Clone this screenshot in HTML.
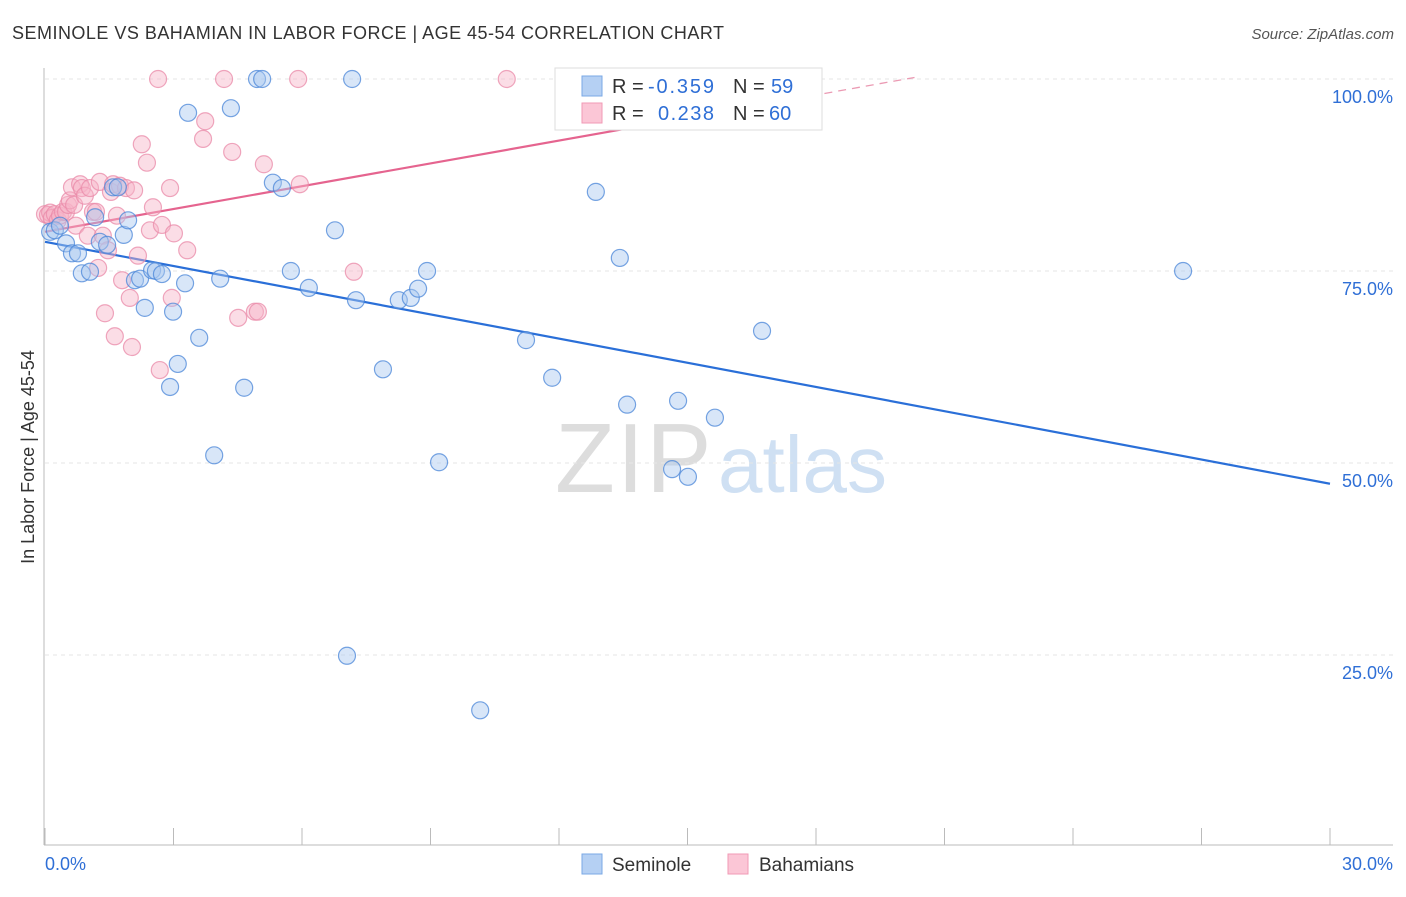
<!DOCTYPE html>
<html><head><meta charset="utf-8"><style>
body{margin:0;background:#fff;font-family:"Liberation Sans",sans-serif;}
svg text{font-family:"Liberation Sans",sans-serif;}
</style></head><body>
<svg id="chart" width="1406" height="892" viewBox="0 0 1406 892" xmlns="http://www.w3.org/2000/svg">
<text x="12" y="39" font-size="18" fill="#333" textLength="712" lengthAdjust="spacing">SEMINOLE VS BAHAMIAN IN LABOR FORCE | AGE 45-54 CORRELATION CHART</text>
<text x="1394" y="39" font-size="15" fill="#555" text-anchor="end" font-style="italic">Source: ZipAtlas.com</text>
<g>
<text x="555" y="492" font-size="98" fill="#ddd" font-family="Liberation Serif" letter-spacing="2">ZIP</text>
<text x="718" y="492" font-size="80" fill="#cfe0f3">atlas</text>
</g>
<g id="grid"></g>
<g id="axes"></g>
<g id="lines"></g>
<g id="pts"></g>
<text transform="translate(34,457) rotate(-90)" font-size="18" fill="#333" text-anchor="middle">In Labor Force | Age 45-54</text>
<g>
<rect x="555" y="68" width="267" height="62" fill="#fff" stroke="#ddd"/>
<rect x="582" y="76" width="20" height="20" fill="#b5d0f3" stroke="#7aa8e6"/>
<rect x="582" y="103" width="20" height="20" fill="#fbc6d6" stroke="#f09ab5"/>
<text x="612" y="93" font-size="20" fill="#333">R =</text>
<text x="648" y="93" font-size="20" fill="#2f6fd6" textLength="66">-0.359</text>
<text x="733" y="93" font-size="20" fill="#333">N =</text>
<text x="771" y="93" font-size="20" fill="#2f6fd6">59</text>
<text x="612" y="120" font-size="20" fill="#333">R =</text>
<text x="658" y="120" font-size="20" fill="#2f6fd6" textLength="56">0.238</text>
<text x="733" y="120" font-size="20" fill="#333">N =</text>
<text x="769" y="120" font-size="20" fill="#2f6fd6">60</text>
</g>
<g>
<rect x="582" y="854" width="20" height="20" fill="#b5d0f3" stroke="#7aa8e6"/>
<text x="612" y="871" font-size="19" fill="#333">Seminole</text>
<rect x="728" y="854" width="20" height="20" fill="#fbc6d6" stroke="#f09ab5"/>
<text x="759" y="871" font-size="19" fill="#333">Bahamians</text>
</g>
</svg>
<script>
const blueX=[0.12,0.23,0.35,0.49,0.63,0.77,0.86,1.05,1.17,1.28,1.45,1.59,1.70,1.84,1.94,2.10,2.22,2.33,2.50,2.59,2.73,2.92,2.99,3.10,3.27,3.34,3.60,3.95,4.09,4.34,4.65,4.95,5.07,5.32,5.53,5.74,6.16,6.77,7.05,7.17,7.26,7.89,8.26,8.54,8.71,8.92,9.20,10.16,11.23,11.84,12.86,13.42,13.59,14.64,14.78,15.01,15.64,16.74,26.57];
const blueY=[80.1,80.3,80.9,78.6,77.3,77.3,74.7,74.9,82.0,78.8,78.4,85.9,85.9,79.7,81.6,73.8,74.0,70.2,75.1,75.0,74.6,59.9,69.7,62.9,73.4,95.6,66.3,51.0,74.0,96.2,59.8,100,100,86.5,85.8,75.0,72.8,80.3,24.9,100,71.2,62.2,71.2,71.5,72.7,75.0,50.1,17.8,66.0,61.1,85.3,76.7,57.6,49.2,58.1,48.2,55.9,67.2,75.0];
const pinkX=[0,0.07,0.12,0.16,0.23,0.30,0.35,0.42,0.49,0.54,0.58,0.63,0.68,0.72,0.82,0.86,0.93,1.00,1.05,1.12,1.19,1.24,1.28,1.35,1.40,1.47,1.54,1.59,1.63,1.68,1.75,1.80,1.89,1.98,2.03,2.08,2.17,2.26,2.38,2.45,2.52,2.64,2.68,2.73,2.92,2.96,3.01,3.32,3.69,3.74,4.18,4.37,4.51,4.90,4.97,5.11,5.91,5.95,7.21,10.78];
const pinkY=[82.4,82.3,82.6,81.9,82.4,81.6,82.2,82.7,82.7,83.6,84.2,85.9,83.6,80.9,86.3,85.8,84.8,79.6,85.8,82.7,82.7,75.4,86.6,79.6,69.5,77.7,85.3,86.3,66.5,82.2,86.1,73.8,85.8,71.5,65.1,85.5,77.0,91.5,89.1,80.3,83.3,100,62.1,81.0,85.8,71.5,79.9,77.7,92.2,94.5,100,90.5,68.9,69.7,69.7,88.9,100,86.3,74.9,100];
const yTicks=[25,50,75,100];
const yTickLabels=["25.0%","50.0%","75.0%","100.0%"];
const xTicks=[0,3,6,9,12,15,18,21,24,27,30];
const blueTrend=[78.8,47.3]; // at x=0 and x=30
const pinkTrend=[80.1,0.99]; // intercept, slope
const pinkSolidEnd=15.3, pinkDashEnd=20.3;

const NS="http://www.w3.org/2000/svg";
const X0=45,X1=1330,Y0=847,PPY=7.68;
const sx=v=>X0+(v/30)*(X1-X0);
const sy=v=>Y0-v*PPY;
function mk(tag,attrs,parent){const e=document.createElementNS(NS,tag);for(const k in attrs)e.setAttribute(k,attrs[k]);parent.appendChild(e);return e;}
const grid=document.getElementById('grid'),axes=document.getElementById('axes'),lines=document.getElementById('lines'),pts=document.getElementById('pts');
yTicks.forEach((t,i)=>{
 const l=mk('line',{x1:45,x2:1393,y1:sy(t),y2:sy(t),stroke:'#e6e6e6','stroke-dasharray':'4,4'},grid);
 
 
 const tx=mk('text',{x:1393,y:sy(t)+24,'font-size':18,fill:'#2f6fd6','text-anchor':'end'},axes);
 tx.textContent=yTickLabels[i];
 
 
});
mk('line',{x1:44,x2:44,y1:68,y2:845,stroke:'#bbb'},axes);
mk('line',{x1:44,x2:1393,y1:845,y2:845,stroke:'#bbb'},axes);
xTicks.forEach(t=>{
 const l=mk('line',{x1:sx(t),x2:sx(t),y1:828,y2:845,stroke:'#bbb'},axes);
 
 
});
const xl0=mk('text',{x:45,y:870,'font-size':18,fill:'#2f6fd6'},axes);xl0.textContent='0.0%';


const xl1=mk('text',{x:1393,y:870,'font-size':18,fill:'#2f6fd6','text-anchor':'end'},axes);xl1.textContent='30.0%';



function dots(xs,ys,fill,stroke,name){
 xs.forEach((x,i)=>{
  const c=mk('circle',{cx:sx(x),cy:sy(ys[i]),r:8.5,fill:fill,'fill-opacity':0.45,stroke:stroke,'stroke-opacity':0.75,'stroke-width':1.2},pts);
  
  
 });
}
dots(pinkX,pinkY,'#f7b3c8','#e98aa8','bahamian-point');
dots(blueX,blueY,'#a8c7f0','#4a86d8','seminole-point');

const bl=mk('line',{x1:sx(0),y1:sy(blueTrend[0]),x2:sx(30),y2:sy(blueTrend[1]),stroke:'#2a6fd8','stroke-width':2.2},lines);


const pf=x=>pinkTrend[0]+pinkTrend[1]*x;
const pl=mk('line',{x1:sx(0),y1:sy(pf(0)),x2:sx(pinkSolidEnd),y2:sy(pf(pinkSolidEnd)),stroke:'#e5648f','stroke-width':2.2},lines);


const pd=mk('line',{x1:sx(pinkSolidEnd),y1:sy(pf(pinkSolidEnd)),x2:sx(pinkDashEnd),y2:sy(pf(pinkDashEnd)),stroke:'#eb9ab3','stroke-width':1.3,'stroke-dasharray':'8,6'},lines);


</script>
</body></html>
